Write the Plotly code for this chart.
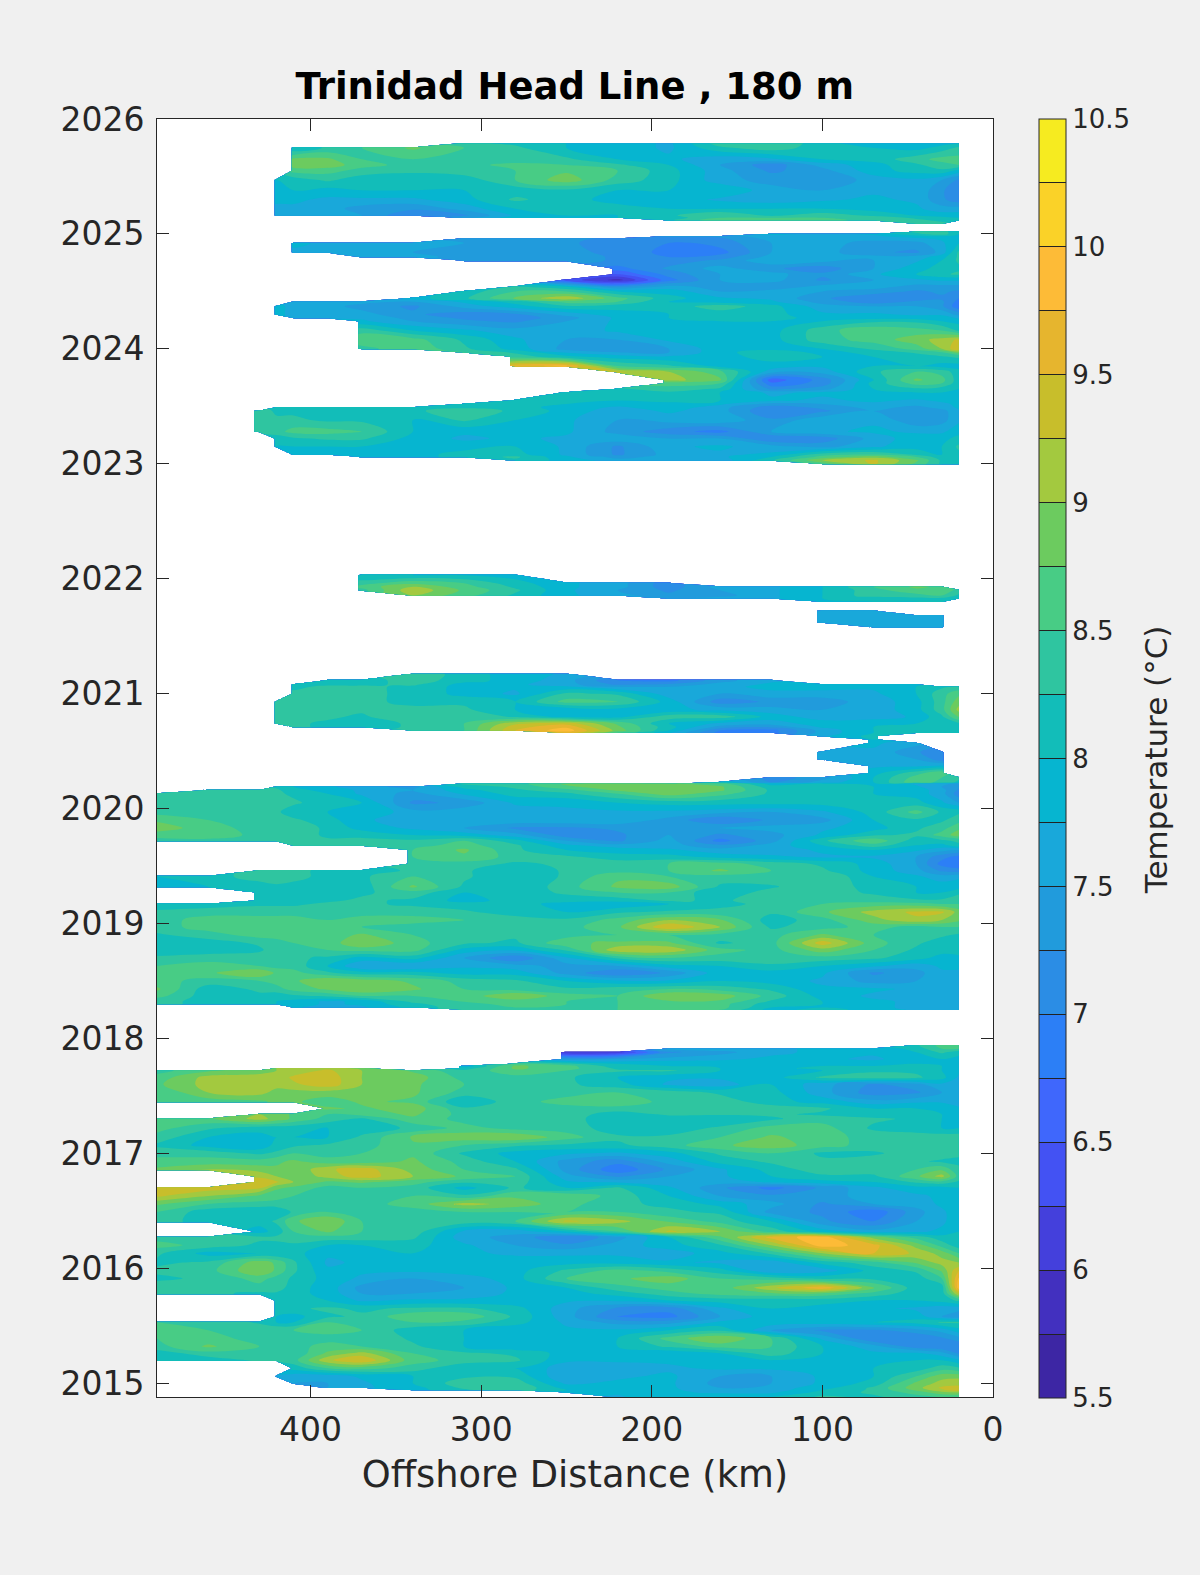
import plotly.graph_objects as go

N = None
DISTANCE_KM = [490,460,430,420,410,390,370,340,310,280,250,220,190,160,130,100,70,45,30,20]
LEVELS = [5.5,5.75,6,6.25,6.5,6.75,7,7.25,7.5,7.75,8,8.25,8.5,8.75,9,9.25,9.5,9.75,10,10.25,10.5]
BAND_COLORS = ["#3D26A4","#4230BF","#4440DC","#4352F3","#3F67FC","#2C7FF6","#2B8DE5","#219BDC","#19A8DA","#06B5D0",
               "#12BDB9","#2FC5A0","#48CC85","#6CCB5F","#A3C93F","#C8BE2B","#E6B52E","#FDBB37","#FAD228","#F6EB20"]
X_TICKS = [0,100,200,300,400]
Y_TICKS = [2015,2016,2017,2018,2019,2020,2021,2022,2023,2024,2025,2026]

# Temperature by year; short rows are aligned to the nearshore (right) end of DISTANCE_KM.
TEMP_2023_2026 = {
2025.79:[8.3,8.2,8.0,7.9,7.7,8.4,8.5,8.1,7.8,7.8,7.9,8.0],
2025.75:[8.0,8.3,8.5,8.8,8.5,8.3,8.0,7.9,7.7,8.2,8.4,8.1,8.0,7.9,8.1,8.3],
2025.65:[8.8,8.8,8.5,8.5,8.5,8.3,8.3,8.0,7.8,7.6,7.7,8.0,8.1,8.4,8.6,8.6],
2025.6:[8.9,8.9,8.6,8.4,8.4,8.6,8.5,8.3,8.0,7.5,7.1,7.6,7.9,8.2,8.4,8.5],
2025.55:[8.6,8.6,8.4,8.3,8.4,8.5,8.7,8.5,8.1,7.6,7.2,7.4,7.9,8.1,8.2,7.9],
2025.47:[8.0,8.1,8.3,8.1,8.1,8.1,8.5,8.9,8.4,8.1,7.6,7.4,7.3,7.6,7.7,7.5,7.2],
2025.38:[8.0,8.0,7.9,8.0,8.0,8.0,8.1,8.2,8.0,8.0,8.0,7.6,7.5,7.7,7.7,7.3,7.0],
2025.3:[7.8,7.8,7.7,7.7,7.7,7.9,8.3,8.1,7.9,7.9,7.7,7.6,7.7,7.8,7.7,7.3,7.1],
2025.22:[7.7,7.7,7.6,7.4,7.3,7.6,8.0,8.2,8.1,8.0,8.0,8.0,8.0,7.9,7.8,7.6,7.6],
2025.16:[7.7,7.6,7.6,7.5,7.0,7.2,7.8,8.0,8.0,8.2,8.5,8.2,8.4,8.2,8.0,7.9,7.9],
2025.14:[7.4,7.9,8.0,8.0,8.1,8.5,8.5,8.5,8.4,8.2,8.1,8.0],
2025.12:[8.2,8.7,8.6,8.6,8.4,8.3,8.2,8.1],
2025.09:[8.4,8.3,N],
2025.05:[N],
2025.02:[8.3,8.4,8.0],
2025.0:[7.8,7.7,7.8,8.2,8.4,8.0],
2024.98:[7.3,7.3,7.7,7.7,7.7,7.9,8.0,8.0],
2024.96:[7.4,7.4,7.3,7.2,7.1,7.2,7.6,7.7,7.6,7.7,7.8,7.9],
2024.92:[7.8,7.7,7.6,7.6,7.5,7.4,7.3,7.1,7.0,7.1,7.5,7.6,7.4,7.4,7.7,8.0],
2024.84:[7.7,7.7,7.6,7.5,7.4,7.3,7.3,7.2,6.9,6.9,7.5,7.6,7.3,7.2,7.6,8.3],
2024.8:[7.7,7.6,7.4,7.3,7.4,7.2,7.0,7.1,7.6,7.7,7.6,7.6,7.9,8.3],
2024.77:[7.4,7.4,7.4,7.2,7.1,7.3,7.7,7.6,7.5,7.7,8.0,8.3],
2024.7:[6.9,7.3,7.6,7.3,7.1,7.5,7.9,8.1,8.2],
2024.65:[6.5,7.1,7.5,7.6,7.3,7.7,8.0,8.2,8.3],
2024.6:[6.4,5.9,6.9,7.5,7.6,7.2,7.5,7.7,7.8,7.8],
2024.54:[8.3,8.0,7.2,7.6,7.4,7.3,7.6,7.6,7.4,7.4,7.4],
2024.5:[8.1,8.5,8.5,8.0,7.9,7.5,7.6,7.5,7.4,7.2,7.3,7.2],
2024.44:[7.9,8.2,8.8,9.2,8.6,8.1,7.8,7.7,7.3,7.0,7.1,7.2,7.0],
2024.41:[7.7,7.6,7.6,7.5,7.8,8.1,8.6,8.5,8.0,7.9,7.8,7.4,7.1,7.3,7.3,6.9],
2024.37:[7.8,7.7,7.6,7.4,7.2,7.6,7.9,8.2,8.1,8.1,8.4,8.1,7.6,7.5,7.5,7.3,6.8],
2024.3:[7.8,7.7,7.6,7.6,7.3,7.1,7.2,7.6,7.9,8.0,8.1,8.1,7.8,7.8,7.7,7.7,7.4],
2024.27:[7.7,7.7,7.7,7.4,7.2,7.1,7.4,7.8,8.0,8.1,8.1,7.9,7.9,7.9,7.9,7.7],
2024.24:[7.8,7.5,7.3,7.2,7.5,7.8,7.9,8.0,8.0,8.0,8.2,8.2,8.0,7.9],
2024.16:[8.4,8.0,7.8,7.6,7.6,7.8,7.9,7.9,7.9,8.4,8.7,8.6,8.5,8.2],
2024.08:[8.7,8.6,8.2,7.8,7.5,7.5,7.8,7.9,7.9,8.4,8.6,8.9,9.1,9.3],
2024.0:[8.4,8.7,8.3,7.9,7.4,7.3,7.5,7.9,7.9,8.0,8.3,8.6,9.0,9.5],
2023.97:[8.5,8.2,7.7,7.5,7.5,7.9,8.2,7.9,8.1,8.3,8.5,8.9],
2023.93:[8.4,8.1,7.9,7.8,7.9,8.1,8.0,8.0,8.1,8.2,8.3],
2023.85:[9.7,9.8,8.5,8.3,7.9,7.9,7.8,8.0,8.0,7.9,7.9],
2023.8:[9.3,9.0,8.6,7.6,7.6,8.2,8.5,8.4,8.1],
2023.73:[9.1,8.8,6.6,7.1,8.0,8.8,8.6,8.1],
2023.7:[8.6,8.5,6.8,7.1,8.1,8.6,8.5,8.1],
2023.65:[8.2,8.4,8.2,7.2,7.4,8.0,8.2,8.1,8.0],
2023.62:[8.1,8.1,8.2,8.0,7.7,7.8,7.9,8.0,8.0,8.0],
2023.55:[8.2,8.1,8.0,8.1,8.0,7.8,7.7,7.8,7.7,7.8,7.9],
2023.52:[8.1,8.1,8.0,7.9,7.9,7.8,7.4,7.5,7.7,7.6,7.7,7.8],
2023.49:[8.2,8.1,8.1,8.1,8.2,8.2,8.1,7.9,7.7,7.9,7.6,7.1,7.3,7.6,7.4,7.6,7.8],
2023.46:[8.4,8.2,8.2,8.2,8.1,8.2,8.4,8.2,7.9,7.6,7.8,7.6,7.0,7.2,7.5,7.3,7.4,7.7],
2023.38:[8.4,8.3,8.3,8.2,8.2,8.0,8.3,8.0,7.8,7.5,7.6,7.7,7.3,7.7,7.7,7.3,7.4,7.7],
2023.28:[8.3,8.4,8.6,8.6,8.5,8.0,7.8,7.8,7.8,7.4,7.1,6.9,7.5,7.7,7.8,7.7,7.7,7.9],
2023.22:[8.1,8.2,8.3,8.3,7.9,7.7,7.8,7.7,7.7,7.5,7.5,7.0,7.1,7.6,7.9,7.9,8.1],
2023.15:[8.0,8.0,8.0,8.0,7.9,7.9,8.0,7.7,7.2,7.7,7.8,7.6,7.4,7.7,7.9,8.0,8.3],
2023.08:[7.9,7.9,7.9,7.9,8.1,8.1,7.7,7.2,7.6,7.7,7.8,8.4,8.5,8.2,8.0,8.2],
2023.06:[7.9,7.9,8.1,8.3,7.8,7.4,7.6,7.7,8.0,8.6,8.9,8.5,8.1,8.1],
2023.03:[8.2,7.9,7.6,7.5,7.6,8.2,9.0,9.3,8.8,8.2,8.1],
2023.0:[8.6,9.3,8.7,8.2,8.1],
2022.97:[N],
}
TEMP_2020_2022 = {
2022.1:[N],
2022.03:[8.0,8.0,8.0,7.9,N,N,N,N,N,N,N,N,N,N],
2021.96:[8.4,8.7,8.5,8.1,7.8,7.6,7.1,N,N,N,N,N,N,N],
2021.93:[8.6,9.0,8.6,8.2,7.8,7.6,7.1,7.6,7.7,8.0,8.5,8.8,8.7,N],
2021.9:[8.4,9.2,8.7,8.3,7.8,7.5,7.2,7.5,7.7,8.0,8.4,8.7,8.7,8.4],
2021.855:[9.0,8.6,8.2,7.8,7.6,7.3,7.4,7.7,8.0,8.4,8.4,8.5,8.2],
2021.83:[7.5,7.6,7.7,8.0,8.1,8.2,8.2,8.2],
2021.8:[7.9,8.0,8.0,8.1,N],
2021.77:[N],
2021.72:[7.7,7.7,N,N,N],
2021.68:[7.6,7.6,7.6,7.6,N],
2021.62:[7.7,7.6,7.6,7.6,N],
2021.58:[7.6,7.6,7.6,N],
2021.54:[N],
2021.2:[N],
2021.17:[8.5,8.1,7.9,7.7,N,N,N,N,N,N,N,N,N],
2021.115:[8.1,8.1,8.4,8.1,7.9,7.6,7.0,6.9,7.4,7.7,N,N,N,N,N],
2021.08:[8.2,8.2,8.2,8.3,7.9,7.8,7.6,7.2,7.3,7.6,7.8,8.0,8.0,7.9,N,N],
2021.06:[8.2,8.3,8.3,8.2,7.9,7.8,7.8,7.5,7.5,7.7,7.8,7.9,7.8,8.0,8.2,8.3],
2021.0:[8.3,8.4,8.3,8.2,7.9,7.7,8.3,8.2,7.6,7.5,7.7,7.6,7.7,8.0,8.4,8.7],
2020.93:[8.4,8.4,8.4,8.3,8.2,8.2,8.0,8.6,8.5,7.9,7.1,7.3,7.4,7.6,7.9,8.4,8.9],
2020.86:[8.4,8.4,8.3,8.3,8.3,8.3,8.0,7.8,7.9,7.8,7.7,7.6,7.5,7.6,7.9,8.4,9.1],
2020.8:[8.4,8.4,8.3,8.2,8.5,8.5,8.2,7.9,7.9,8.4,8.4,7.9,7.6,7.6,7.8,8.2,8.8],
2020.74:[8.3,8.3,8.2,8.1,8.3,8.5,9.2,9.4,8.7,8.0,7.7,7.6,7.9,8.0,8.0,8.1,8.2],
2020.71:[8.3,8.2,8.1,8.3,8.5,9.4,9.7,8.8,8.1,7.4,7.3,7.8,8.0,8.1,8.1,8.2],
2020.68:[8.4,8.5,9.5,9.9,8.9,8.0,7.0,6.9,7.6,8.0,8.1,8.1,8.2],
2020.66:[9.6,8.5,7.8,6.9,6.9,7.6,8.0,8.1,8.1,8.2],
2020.63:[7.7,8.1,N,N,N],
2020.6:[8.0,N,N,N],
2020.57:[7.8,7.6,N,N],
2020.49:[7.7,7.7,7.3,7.0,N],
2020.43:[7.6,7.7,7.5,7.1,N],
2020.37:[7.7,7.7,7.8,N],
2020.31:[7.9,8.4,8.7,N],
2020.27:[7.1,7.4,8.0,8.6,8.5,8.3],
2020.23:[8.0,7.2,7.6,8.0,8.7,8.4,8.2],
}
TEMP_2018_2020 = {
2020.217:[8.3,8.4,8.8,8.9,8.8,8.6,7.9,8.0,8.0,7.7,7.6,7.4],
2020.19:[8.2,8.0,7.8,7.6,7.4,8.1,8.3,8.7,8.9,8.9,8.8,8.1,8.1,8.0,7.8,7.5,7.3],
2020.16:[8.4,8.4,8.3,8.1,7.9,7.7,7.5,7.9,8.2,8.4,8.8,8.9,8.8,8.2,8.1,8.0,7.9,7.6,7.2],
2020.13:[8.4,8.4,8.4,8.3,8.2,8.0,7.7,7.4,7.8,8.1,8.2,8.5,8.9,8.6,8.2,8.1,8.0,7.9,7.6,7.1],
2020.05:[8.4,8.5,8.4,8.4,8.3,8.1,8.0,7.2,7.3,7.8,7.8,8.0,8.1,8.1,8.1,8.1,8.2,8.1,7.8,7.5],
2019.97:[8.4,8.4,8.4,8.3,8.1,8.0,8.0,7.6,7.7,7.6,7.7,7.7,7.7,7.6,7.5,7.7,8.1,8.6,8.2,8.2],
2019.9:[8.7,8.5,8.4,8.4,8.3,8.1,7.8,7.6,7.7,7.7,7.7,7.7,7.4,7.0,7.3,7.4,8.0,8.2,8.2,8.4],
2019.83:[8.9,8.6,8.4,8.4,8.4,8.2,7.9,7.7,7.5,7.2,7.2,7.3,7.5,7.5,7.6,7.7,7.9,8.2,8.4,8.7],
2019.77:[8.6,8.7,8.4,8.4,8.4,8.2,8.2,8.0,7.9,7.6,7.1,7.2,7.5,7.2,7.4,7.8,8.2,8.3,8.6,8.9],
2019.72:[8.4,8.4,8.4,8.4,8.4,8.3,8.3,8.3,8.5,8.1,7.5,7.2,7.6,6.9,7.4,8.2,8.7,8.1,8.2,8.3],
2019.68:[8.3,8.3,8.3,8.4,8.6,8.3,7.8,7.6,7.6,7.3,7.6,8.0,8.4,8.0,7.9,8.2],
2019.64:[8.5,8.8,8.3,8.0,7.9,7.8,7.6,7.6,7.8,8.0,7.8,7.6,7.5],
2019.58:[8.5,8.7,8.4,8.3,8.1,8.1,7.9,7.8,7.7,7.7,7.5,7.1,6.9],
2019.52:[8.3,8.4,8.2,8.3,8.4,8.5,8.6,8.4,8.2,7.9,7.5,6.9,6.8],
2019.46:[8.3,8.3,8.3,8.2,8.1,8.3,8.3,8.0,8.3,8.4,8.5,8.8,8.5,8.3,7.9,7.6,7.2,7.1],
2019.41:[8.0,8.1,8.4,8.4,8.3,8.2,8.2,8.5,8.3,8.0,8.3,8.7,8.5,8.4,8.5,8.5,8.0,7.8,7.6,7.7],
2019.32:[8.0,8.0,8.1,8.2,8.2,8.1,8.1,8.8,8.2,8.0,8.4,8.8,8.9,8.2,8.2,8.5,8.1,8.0,7.9,7.9],
2019.27:[8.1,8.1,8.1,8.1,8.2,8.4,8.0,8.1,8.3,8.5,8.5,8.0,8.4,8.4,8.2,8.0,8.0,8.2],
2019.2:[8.1,8.1,8.1,8.2,8.3,8.2,7.9,8.1,8.1,8.1,8.3,8.2,8.4,8.5,8.4,8.3,8.3,8.4],
2019.17:[8.1,8.1,8.2,8.2,8.2,8.3,8.3,8.2,8.1,8.1,7.9,7.8,8.0,8.2,8.3,8.5,8.6,8.6,8.5,8.5],
2019.1:[8.3,8.4,8.4,8.4,8.4,8.5,8.4,8.4,8.3,8.1,8.0,8.2,8.3,8.3,8.3,8.7,9.1,9.3,9.3,8.9],
2019.03:[8.4,8.6,8.6,8.6,8.6,8.5,8.6,8.6,8.5,8.4,8.3,8.6,9.0,8.8,8.1,8.4,8.9,9.2,9.0,8.8],
2018.97:[8.4,8.6,8.6,8.6,8.6,8.6,8.5,8.4,8.4,8.4,8.4,8.7,9.5,9.0,8.2,8.4,8.6,8.4,8.5,8.5],
2018.9:[8.2,8.4,8.6,8.6,8.6,8.6,8.8,8.5,8.3,8.3,8.4,8.5,8.5,8.4,8.4,8.8,8.5,8.5,8.3,8.2],
2018.83:[8.1,8.1,8.3,8.4,8.5,8.6,9.0,8.6,8.3,8.2,8.7,8.8,8.8,8.2,8.4,9.4,8.6,8.3,8.1,8.2],
2018.77:[8.1,8.1,8.2,8.4,8.4,8.5,8.6,8.6,7.9,7.8,8.3,9.2,9.2,8.6,8.4,8.9,8.5,8.2,8.1,8.2],
2018.7:[8.3,8.4,8.4,8.4,8.3,8.2,7.9,8.1,7.5,7.0,7.7,8.3,8.5,8.4,8.4,8.4,8.3,8.1,7.9,7.9],
2018.63:[8.5,8.6,8.5,8.4,8.4,8.0,7.5,7.5,7.7,7.6,7.4,7.5,7.9,8.0,8.2,8.0,7.8,7.6,7.8,7.8],
2018.57:[8.6,8.7,9.0,8.7,8.6,8.3,8.1,8.1,7.9,7.9,7.4,7.0,7.3,7.9,7.9,7.8,7.2,7.4,7.7,7.7],
2018.5:[8.6,8.4,8.5,8.6,8.7,9.0,8.9,8.7,8.4,8.3,8.0,7.8,7.8,8.0,7.9,7.7,7.4,7.5,7.7,7.7],
2018.43:[8.8,8.1,8.3,8.4,8.6,8.8,9.0,8.8,8.5,8.4,8.3,8.4,8.5,8.4,8.2,7.8,7.8,7.7,7.6,7.6],
2018.37:[8.6,8.1,8.2,8.1,8.2,8.3,8.5,8.5,8.6,9.0,8.6,8.5,9.0,8.9,8.4,7.9,7.7,7.7,7.6,7.6],
2018.32:[8.3,8.2,8.1,8.0,7.9,7.7,7.8,8.3,8.5,8.6,8.5,8.5,8.7,8.7,8.2,8.0,7.8,7.7,7.7,7.7],
2018.3:[8.3,8.2,8.1,8.0,7.9,7.7,7.8,8.2,8.4,8.6,8.5,8.5,8.6,8.6,8.1,8.0,7.8,7.7,7.7,7.7],
2018.27:[7.8,7.6,7.7,8.1,8.4,8.5,8.5,8.5,8.6,8.6,8.0,8.0,7.8,7.7,7.7,7.7],
2018.25:[8.4,8.4,8.5,8.5,8.6,8.5,7.9,8.1,7.9,7.7,7.7,7.7],
2018.22:[N],
}
TEMP_2015_2018 = {
2017.97:[N],
2017.94:[8.2,8.6,8.7],
2017.91:[7.6,7.7,7.7,7.8,7.8,8.1,8.5,8.5],
2017.88:[6.0,6.1,7.2,7.4,7.7,7.8,7.8,8.0,8.3,8.1],
2017.82:[7.4,7.5,7.6,7.7,7.8,7.8,7.7,7.9,8.0,7.9],
2017.78:[8.5,8.3,8.0,8.0,7.9,7.9,7.9,7.9,8.0,8.0,7.8],
2017.76:[7.8,8.8,8.6,8.1,8.0,7.9,7.9,8.0,8.0,8.1,8.0,7.8],
2017.74:[9.0,9.1,9.2,8.9,N,8.1,8.8,8.6,8.2,8.1,8.0,7.9,8.1,8.1,8.1,8.0,7.8],
2017.72:[8.4,8.7,8.9,9.0,9.1,9.3,9.0,8.7,8.3,8.7,8.5,8.3,8.3,8.0,7.9,8.0,8.2,8.2,8.0,7.8],
2017.66:[8.6,9.1,9.1,9.1,9.3,9.4,9.0,8.9,8.4,8.4,8.3,8.0,7.8,7.8,7.9,8.3,8.4,8.3,8.1,7.7],
2017.6:[8.7,9.1,9.1,9.1,9.2,9.4,9.0,8.8,8.5,8.4,8.3,8.1,7.7,7.6,8.0,7.6,7.2,7.4,7.7,7.7],
2017.53:[8.5,9.0,9.1,8.9,8.9,8.9,8.8,8.8,8.4,8.5,8.4,8.5,8.4,8.2,8.1,7.6,7.1,7.2,7.5,7.7],
2017.45:[8.5,8.6,8.7,8.8,8.8,8.6,8.8,8.7,8.0,8.4,8.6,8.7,8.4,8.4,8.1,7.9,7.6,7.7,7.7,7.6],
2017.39:[8.8,8.7,8.9,8.3,8.4,8.4,8.4,8.4,8.4,8.4,8.3,8.0,8.0,8.0,7.8],
2017.34:[9.0,8.9,8.7,8.5,8.6,8.8,8.4,8.4,8.4,8.1,8.3,8.3,8.3,8.2,8.1,8.1,8.0,7.9],
2017.3:[8.5,8.7,9.1,8.9,8.7,8.4,8.2,8.7,8.4,8.4,8.4,8.0,8.1,8.0,8.2,8.4,8.3,8.2,8.0,7.9],
2017.22:[8.6,8.3,8.1,8.1,8.1,8.0,8.1,8.3,8.6,8.4,8.4,8.1,8.1,8.3,8.6,8.6,8.2,8.2,8.0,8.0],
2017.14:[8.4,8.0,7.9,8.0,8.0,8.0,8.3,8.8,8.9,9.0,8.6,8.3,8.3,8.5,8.8,8.6,8.4,8.3,8.4,8.4],
2017.07:[8.2,7.9,7.8,8.1,8.2,8.3,8.4,8.7,8.5,8.3,8.2,8.2,8.4,8.7,8.9,8.6,8.4,8.4,8.4,8.4],
2017.0:[8.4,8.4,8.2,8.3,8.5,8.4,8.5,8.7,8.2,7.9,7.8,7.7,7.9,8.3,8.5,8.2,8.2,8.4,8.4,8.3],
2016.93:[8.6,8.6,8.6,8.7,8.8,8.6,8.6,8.8,8.4,8.0,7.4,7.1,7.6,8.1,8.3,8.3,8.4,8.3,8.2,8.2],
2016.86:[8.8,9.0,8.9,8.8,8.8,9.2,9.4,8.9,8.5,8.3,7.4,6.8,7.3,7.7,8.1,8.4,8.4,8.5,8.7,8.3],
2016.8:[9.2,9.0,8.8,9.1,9.4,9.0,8.7,8.5,7.6,7.2,7.5,7.7,8.0,8.2,8.2,8.7,9.1,8.4],
2016.75:[9.4,9.3,9.0,8.7,8.8,8.6,8.3,8.4,7.8,7.7,7.6,7.6,7.8,7.9,8.0,8.3,8.4,8.2],
2016.7:[9.4,9.4,9.3,8.8,8.7,8.4,8.5,8.4,7.9,8.3,8.0,8.3,7.8,7.3,6.9,7.3,7.7,7.9,7.9,8.0],
2016.63:[9.3,9.0,8.7,8.6,8.5,8.4,8.4,8.5,8.3,8.7,8.7,8.4,8.0,7.5,7.3,7.4,7.6,7.7,7.8,7.8],
2016.56:[8.8,8.5,8.4,8.4,8.3,8.4,8.4,8.6,9.1,8.9,8.6,8.3,8.2,7.9,7.6,7.2,7.5,7.6,7.8,7.9],
2016.49:[8.5,8.1,8.0,8.0,8.3,8.5,8.5,8.4,8.5,8.5,8.5,8.5,8.3,8.2,7.4,7.2,6.8,7.4,7.7,7.9],
2016.41:[8.3,8.2,8.1,8.3,8.7,9.0,8.5,8.5,8.4,8.5,9.3,9.1,8.7,8.4,8.0,7.3,7.0,7.5,7.7,7.9],
2016.32:[7.9,8.1,8.5,8.8,8.5,8.4,7.7,7.6,8.0,8.5,9.3,9.0,8.4,7.9,7.6,7.7,7.8,8.0],
2016.27:[8.4,8.5,8.3,8.3,8.4,8.4,8.4,8.3,7.6,7.4,7.0,7.4,8.0,8.7,9.6,9.9,8.9,8.4,8.1,8.1],
2016.2:[8.6,8.4,8.2,8.2,8.2,8.0,8.0,8.1,7.8,7.5,7.3,7.6,7.9,8.2,9.0,9.9,9.6,8.9,8.4,8.1],
2016.13:[8.3,7.9,8.0,8.0,8.1,7.8,7.9,8.0,7.8,7.7,7.7,7.7,7.6,7.9,8.3,9.0,9.5,9.2,8.9,8.5],
2016.05:[8.2,8.3,8.9,8.7,8.3,7.7,7.8,7.9,8.0,7.9,7.9,7.9,7.8,7.7,7.6,8.1,8.4,8.8,9.1,9.0],
2015.98:[8.3,8.4,9.0,8.7,8.3,7.8,7.8,7.8,7.9,7.9,8.3,8.6,8.4,8.1,7.5,7.6,8.1,8.3,8.8,9.5],
2015.91:[8.2,8.3,8.6,8.4,8.2,7.9,7.7,7.5,7.6,7.9,8.5,8.7,8.9,8.5,8.4,8.2,8.2,8.1,8.5,9.8],
2015.83:[8.4,8.4,8.4,8.4,8.1,7.9,7.4,7.3,7.5,7.8,8.0,8.4,8.6,8.6,9.2,9.7,8.8,8.1,8.1,9.9],
2015.78:[8.3,8.3,8.2,8.2,8.1,7.9,7.5,7.5,7.6,7.8,7.9,8.1,8.4,8.6,8.7,8.7,8.4,8.1,8.1,9.3],
2015.72:[8.2,8.2,8.0,7.7,7.8,7.8,7.8,7.8,7.8,8.0,8.1,8.1,8.1,8.0,8.0,8.1,8.3],
2015.65:[8.2,8.2,8.3,8.2,8.3,8.3,8.1,7.6,7.2,7.1,7.7,8.0,7.9,7.8,7.7,7.6,7.6],
2015.58:[8.0,7.9,8.2,8.3,8.7,8.7,8.2,7.6,7.0,6.9,7.5,7.9,7.9,7.9,7.9,7.5,7.3],
2015.53:[8.5,8.5,8.2,8.0,8.0,8.5,8.4,8.5,8.4,8.1,7.7,7.4,7.4,7.8,7.9,7.9,8.0,8.1,8.3,8.3],
2015.46:[8.6,8.5,8.5,8.5,8.5,8.6,8.5,8.1,8.0,7.8,7.8,7.8,8.0,8.2,7.5,7.2,7.2,7.4,7.6,7.9],
2015.39:[8.5,8.6,8.4,8.3,8.3,8.4,8.5,8.2,8.0,7.8,7.8,8.0,8.6,9.0,8.5,7.7,7.0,7.0,7.2,7.4],
2015.32:[8.4,8.8,8.5,8.4,8.4,8.6,8.5,8.3,8.0,7.8,7.8,8.0,8.3,8.6,8.5,8.0,7.6,7.1,7.0,7.0],
2015.26:[8.1,8.4,8.4,8.3,8.3,8.8,9.1,8.5,8.3,8.2,7.9,7.8,7.8,8.0,8.4,8.0,7.8,7.8,7.6,7.2],
2015.2:[8.1,8.1,8.3,8.3,8.4,9.2,9.5,8.6,8.4,8.3,7.8,7.8,7.8,7.9,8.0,8.0,7.9,8.0,8.0,7.8],
2015.13:[8.1,8.5,8.6,8.4,8.0,8.0,7.6,7.6,7.7,7.8,7.8,7.8,8.0,8.1,8.4,8.3],
2015.06:[7.7,7.6,7.6,7.8,8.0,8.2,8.2,7.5,7.7,7.8,7.5,7.5,7.8,8.0,8.5,8.9,8.9],
2015.0:[7.5,7.5,7.7,8.0,8.4,8.4,7.7,7.8,7.8,7.4,7.5,7.8,8.1,8.8,9.1,9.2],
2014.96:[7.5,7.7,7.9,8.3,8.5,7.9,7.9,7.8,7.5,7.6,7.9,8.3,8.9,9.3,9.3],
2014.94:[7.9,8.2,8.4,8.0,7.9,7.8,7.6,7.6,8.0,8.3,8.8,9.2,9.4],
2014.92:[7.9,7.8,7.8,7.7,7.7,8.1,8.3,8.6,8.9,9.0],
2014.88:[7.7,8.0,8.0,8.0,8.3,8.2,8.4,8.5,8.5],
}

table = {}
for part in (TEMP_2023_2026, TEMP_2020_2022, TEMP_2018_2020, TEMP_2015_2018):
    table.update(part)
years = sorted(table)
ncol = len(DISTANCE_KM)
z = []
for y in years:
    row = table[y]
    if len(row) > ncol:
        raise ValueError(f"row {y} has {len(row)} values")
    row = [None] * (ncol - len(row)) + row
    z.append(row[::-1])            # ascending distance

n = len(BAND_COLORS)
scale = []
for i, c in enumerate(BAND_COLORS):
    scale += [[i / n, c], [(i + 1) / n, c]]

INK = "#262626"
FONT = "DejaVu Sans"
W, H = 1200, 1575
L, R, T, B = 156.5, 993, 118.5, 1397

fig = go.Figure(go.Contour(
    x=DISTANCE_KM[::-1], y=years, z=z,
    zmin=LEVELS[0], zmax=LEVELS[-1], colorscale=scale, connectgaps=False,
    autocontour=False,
    contours=dict(start=LEVELS[0], end=LEVELS[-1], size=LEVELS[1] - LEVELS[0], coloring="fill", showlines=False),
    line=dict(width=0, smoothing=1.0),
    hoverinfo="skip",
    colorbar=dict(
        thicknessmode="pixels", thickness=27, lenmode="pixels", len=B - T,
        xref="paper", yref="paper", x=(1039 - L) / (R - L), xanchor="left", y=1, yanchor="top",
        xpad=0, ypad=0, outlinecolor=INK, outlinewidth=1, borderwidth=0,
        tickmode="array", tickvals=LEVELS,
        ticktext=[(f"{v:g}" if (v * 2) % 1 == 0 else "") for v in LEVELS],
        ticks="inside", ticklen=27, tickwidth=1, tickcolor="#222222",
        tickfont=dict(family=FONT, size=26, color=INK),
    ),
))

axis_common = dict(
    showgrid=False, zeroline=False, showline=True, linecolor=INK, linewidth=1,
    mirror="ticks", ticks="inside", ticklen=12, tickwidth=1, tickcolor=INK,
    tickfont=dict(family=FONT, size=33, color=INK),
)
fig.update_layout(
    width=W, height=H, autosize=False,
    paper_bgcolor="#F0F0F0", plot_bgcolor="#FFFFFF",
    margin=dict(l=L, r=W - R, t=T, b=H - B, pad=0),
    font=dict(family=FONT, color=INK),
    xaxis=dict(range=[490, 0], tickmode="array", tickvals=X_TICKS, ticktext=[str(v) for v in X_TICKS],
               ticklabelstandoff=3,
               title=dict(text="Offshore Distance (km)", font=dict(family=FONT, size=36.8, color=INK), standoff=13),
               **axis_common),
    yaxis=dict(range=[2014.88, 2026], tickmode="array", tickvals=Y_TICKS, ticktext=[str(v) for v in Y_TICKS],
               ticklabelstandoff=5, **axis_common),
    title=dict(text="<b>Trinidad Head Line , 180 m</b>", font=dict(family=FONT, size=37, color="#000000"),
               x=(L + R) / 2 / W, xanchor="center", xref="container", y=1 - 86.5 / H, yanchor="middle", yref="container"),
    annotations=[dict(text="Temperature (°C)", xref="paper", yref="paper",
                      x=(1156 - L) / (R - L), y=(B - 759) / (B - T), xanchor="center", yanchor="middle",
                      textangle=-90, showarrow=False, font=dict(family=FONT, size=31, color=INK))],
)
fig.write_html("out.html", config={"displayModeBar": False},
               post_script="document.body.style.margin='0';document.body.style.background='#F0F0F0';")
